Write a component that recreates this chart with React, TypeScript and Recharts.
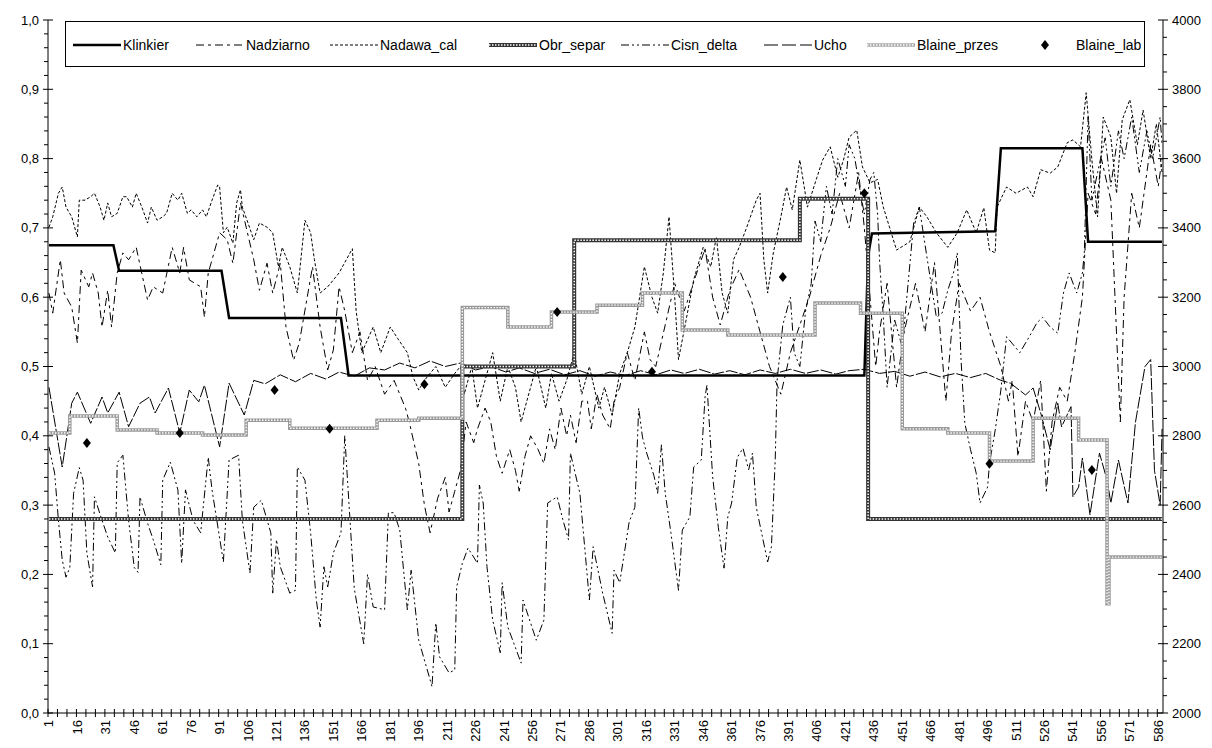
import React from "react";
import { ComposedChart, Line, Scatter, XAxis, YAxis, Legend } from "recharts";

const xLabels = [1, 16, 31, 46, 61, 76, 91, 106, 121, 136, 151, 166, 181, 196, 211, 226, 241, 256, 271, 286, 301, 316, 331, 346, 361, 376, 391, 406, 421, 436, 451, 466, 481, 496, 511, 526, 541, 556, 571, 586];
const leftLabels = ["0,0", "0,1", "0,2", "0,3", "0,4", "0,5", "0,6", "0,7", "0,8", "0,9", "1,0"];
const rightLabels = ["2000", "2200", "2400", "2600", "2800", "3000", "3200", "3400", "3600", "3800", "4000"];

// [sample, value] pairs
const klinkier = [[1, 0.675], [35, 0.675], [38, 0.638], [92, 0.638], [96, 0.57], [155, 0.57], [159, 0.487], [431, 0.487], [433, 0.66], [435, 0.692], [500, 0.695], [503, 0.815], [546, 0.815], [549, 0.68], [588, 0.68]];

const nadziarno = [[1, 0.606], [3, 0.577], [7, 0.654], [9, 0.606], [13, 0.586], [16, 0.534], [18, 0.639], [22, 0.615], [24, 0.635], [27, 0.606], [29, 0.557], [32, 0.61], [34, 0.557], [37, 0.635], [40, 0.664], [43, 0.654], [47, 0.672], [53, 0.596], [56, 0.615], [61, 0.606], [66, 0.672], [70, 0.635], [72, 0.672], [75, 0.625], [81, 0.615], [83, 0.571], [85, 0.635], [87, 0.654], [91, 0.693], [95, 0.683], [98, 0.649], [102, 0.736], [105, 0.701], [109, 0.654], [112, 0.61], [116, 0.649], [119, 0.606], [123, 0.649], [126, 0.557], [130, 0.509], [133, 0.534], [140, 0.644], [144, 0.557], [148, 0.495], [151, 0.524], [154, 0.615], [157, 0.58], [161, 0.52], [165, 0.55], [169, 0.48], [173, 0.5], [178, 0.46], [183, 0.48], [189, 0.44], [191, 0.42], [196, 0.36], [199, 0.3], [202, 0.26], [206, 0.31], [210, 0.34], [212, 0.29], [215, 0.32], [218, 0.35], [221, 0.42], [225, 0.39], [227, 0.41], [231, 0.44], [234, 0.42], [237, 0.37], [240, 0.346], [244, 0.38], [247, 0.35], [249, 0.32], [252, 0.37], [255, 0.4], [259, 0.38], [262, 0.36], [265, 0.41], [268, 0.38], [271, 0.44], [274, 0.4], [276, 0.43], [279, 0.39], [282, 0.45], [285, 0.45], [287, 0.41], [290, 0.46], [293, 0.43], [297, 0.41], [299, 0.45], [302, 0.47], [306, 0.52], [310, 0.48], [315, 0.55], [318, 0.51], [321, 0.5], [326, 0.56], [331, 0.62], [336, 0.58], [342, 0.63], [347, 0.67], [351, 0.6], [355, 0.56], [360, 0.61], [365, 0.64], [371, 0.6], [376, 0.55], [381, 0.5], [387, 0.46], [392, 0.52], [397, 0.56], [402, 0.6], [408, 0.66], [413, 0.7], [418, 0.75], [423, 0.7], [428, 0.78], [431, 0.7], [434, 0.6], [437, 0.5], [439, 0.55], [443, 0.62], [448, 0.47], [452, 0.55], [458, 0.62], [463, 0.55], [468, 0.65], [474, 0.45], [477, 0.55], [481, 0.62], [487, 0.58], [492, 0.6], [497, 0.55], [503, 0.5], [507, 0.45], [509, 0.48], [512, 0.37], [516, 0.45], [520, 0.42], [524, 0.48], [527, 0.32], [530, 0.42], [534, 0.47], [538, 0.45], [542, 0.52], [546, 0.6], [549, 0.75], [553, 0.72], [556, 0.8], [561, 0.74], [566, 0.42], [568, 0.6], [572, 0.75], [576, 0.7], [582, 0.82], [586, 0.76], [588, 0.8]];

const nadawaCal = [[1, 0.701], [3, 0.716], [6, 0.75], [8, 0.759], [10, 0.73], [13, 0.716], [16, 0.687], [17, 0.74], [20, 0.74], [23, 0.745], [25, 0.75], [28, 0.73], [30, 0.711], [32, 0.736], [34, 0.716], [37, 0.721], [40, 0.745], [42, 0.745], [45, 0.73], [47, 0.75], [50, 0.73], [53, 0.707], [55, 0.73], [58, 0.711], [61, 0.716], [63, 0.721], [66, 0.75], [69, 0.74], [71, 0.75], [74, 0.721], [76, 0.726], [79, 0.716], [82, 0.726], [84, 0.716], [87, 0.74], [90, 0.762], [91, 0.759], [93, 0.693], [95, 0.701], [98, 0.678], [100, 0.736], [102, 0.755], [103, 0.73], [106, 0.707], [109, 0.683], [112, 0.707], [116, 0.701], [119, 0.693], [122, 0.644], [124, 0.672], [128, 0.644], [132, 0.606], [136, 0.711], [139, 0.693], [141, 0.654], [144, 0.606], [148, 0.615], [151, 0.625], [154, 0.635], [161, 0.67], [163, 0.58], [166, 0.52], [172, 0.557], [176, 0.52], [181, 0.557], [185, 0.54], [190, 0.52], [193, 0.485], [196, 0.466], [199, 0.48], [205, 0.5], [210, 0.47], [215, 0.49], [218, 0.5], [220, 0.46], [224, 0.5], [227, 0.44], [231, 0.48], [235, 0.52], [239, 0.45], [243, 0.5], [247, 0.47], [250, 0.42], [255, 0.47], [258, 0.5], [263, 0.44], [266, 0.49], [270, 0.45], [274, 0.48], [278, 0.52], [282, 0.46], [286, 0.5], [291, 0.44], [294, 0.47], [298, 0.43], [302, 0.49], [306, 0.52], [310, 0.557], [315, 0.644], [319, 0.6], [322, 0.577], [325, 0.635], [328, 0.716], [331, 0.6], [333, 0.51], [337, 0.567], [341, 0.625], [346, 0.672], [350, 0.644], [353, 0.687], [356, 0.606], [359, 0.577], [362, 0.654], [365, 0.672], [369, 0.701], [374, 0.74], [376, 0.75], [378, 0.654], [380, 0.606], [383, 0.664], [387, 0.716], [390, 0.759], [393, 0.726], [397, 0.798], [401, 0.73], [406, 0.773], [409, 0.798], [413, 0.817], [417, 0.773], [420, 0.798], [423, 0.831], [427, 0.841], [430, 0.788], [434, 0.765], [438, 0.77], [441, 0.73], [448, 0.668], [455, 0.68], [460, 0.73], [464, 0.716], [469, 0.693], [475, 0.672], [480, 0.693], [485, 0.726], [490, 0.693], [494, 0.729], [497, 0.668], [500, 0.664], [501, 0.73], [506, 0.759], [511, 0.75], [517, 0.759], [520, 0.745], [524, 0.784], [529, 0.779], [533, 0.788], [538, 0.823], [541, 0.827], [545, 0.817], [548, 0.895], [551, 0.798], [554, 0.716], [557, 0.86], [561, 0.831], [564, 0.75], [567, 0.856], [571, 0.885], [575, 0.82], [578, 0.87], [582, 0.8], [585, 0.85], [588, 0.78]];

const cisnDelta = [[1, 0.384], [4, 0.346], [6, 0.278], [8, 0.221], [10, 0.196], [12, 0.21], [14, 0.317], [17, 0.354], [19, 0.336], [21, 0.231], [24, 0.182], [25, 0.312], [29, 0.278], [32, 0.254], [36, 0.231], [37, 0.361], [40, 0.372], [43, 0.278], [46, 0.21], [48, 0.203], [49, 0.312], [53, 0.274], [56, 0.25], [60, 0.214], [61, 0.336], [65, 0.362], [69, 0.322], [71, 0.216], [73, 0.322], [77, 0.278], [81, 0.26], [85, 0.369], [87, 0.322], [93, 0.218], [96, 0.365], [101, 0.372], [103, 0.278], [107, 0.202], [109, 0.297], [113, 0.307], [118, 0.26], [119, 0.173], [121, 0.25], [123, 0.211], [128, 0.173], [131, 0.177], [132, 0.355], [136, 0.336], [139, 0.26], [142, 0.163], [144, 0.124], [146, 0.211], [148, 0.182], [151, 0.231], [155, 0.26], [157, 0.4], [162, 0.18], [167, 0.1], [169, 0.2], [172, 0.153], [178, 0.149], [180, 0.289], [183, 0.289], [186, 0.264], [190, 0.149], [192, 0.206], [196, 0.105], [202, 0.048], [203, 0.038], [205, 0.13], [207, 0.081], [212, 0.058], [215, 0.062], [216, 0.182], [219, 0.216], [222, 0.238], [227, 0.216], [228, 0.329], [230, 0.303], [232, 0.211], [235, 0.134], [239, 0.087], [240, 0.188], [243, 0.124], [250, 0.072], [251, 0.163], [258, 0.105], [262, 0.134], [264, 0.303], [269, 0.312], [272, 0.279], [275, 0.25], [276, 0.375], [281, 0.317], [286, 0.163], [288, 0.24], [293, 0.173], [298, 0.115], [299, 0.206], [302, 0.188], [307, 0.276], [310, 0.297], [312, 0.44], [314, 0.398], [316, 0.377], [320, 0.343], [322, 0.317], [324, 0.387], [326, 0.317], [329, 0.26], [333, 0.177], [335, 0.264], [339, 0.283], [341, 0.355], [345, 0.365], [347, 0.456], [348, 0.473], [351, 0.341], [354, 0.268], [357, 0.209], [359, 0.283], [361, 0.303], [364, 0.369], [367, 0.382], [370, 0.351], [372, 0.375], [374, 0.297], [380, 0.218], [382, 0.24], [384, 0.365], [385, 0.48], [388, 0.56], [392, 0.6], [394, 0.52], [397, 0.5], [400, 0.58], [403, 0.62], [405, 0.71], [408, 0.68], [411, 0.76], [414, 0.72], [417, 0.8], [421, 0.76], [423, 0.82], [426, 0.8], [429, 0.75], [431, 0.72], [434, 0.77], [436, 0.78], [438, 0.72], [439, 0.654], [441, 0.571], [443, 0.47], [447, 0.567], [451, 0.528], [457, 0.707], [460, 0.73], [464, 0.658], [467, 0.606], [469, 0.571], [472, 0.577], [475, 0.61], [478, 0.635], [480, 0.664], [482, 0.509], [484, 0.418], [487, 0.38], [490, 0.346], [492, 0.303], [496, 0.326], [497, 0.36], [500, 0.408], [503, 0.466], [506, 0.543], [513, 0.52], [518, 0.543], [522, 0.563], [525, 0.571], [529, 0.557], [533, 0.548], [536, 0.606], [539, 0.635], [543, 0.606], [546, 0.635], [547, 0.664], [549, 0.86], [551, 0.74], [554, 0.78], [558, 0.83], [561, 0.76], [565, 0.84], [568, 0.8], [572, 0.86], [576, 0.78], [580, 0.84], [583, 0.8], [587, 0.86], [588, 0.82]];

const ucho = [[1, 0.47], [8, 0.355], [13, 0.447], [16, 0.463], [23, 0.418], [29, 0.456], [32, 0.433], [38, 0.463], [43, 0.413], [49, 0.447], [54, 0.456], [57, 0.433], [64, 0.469], [70, 0.404], [75, 0.466], [80, 0.449], [83, 0.473], [91, 0.384], [96, 0.476], [104, 0.43], [109, 0.48], [115, 0.475], [123, 0.488], [131, 0.478], [139, 0.49], [147, 0.482], [154, 0.492], [162, 0.486], [170, 0.498], [178, 0.495], [186, 0.505], [194, 0.498], [202, 0.508], [210, 0.5], [218, 0.505], [226, 0.495], [234, 0.5], [242, 0.492], [249, 0.498], [257, 0.49], [265, 0.496], [273, 0.488], [281, 0.494], [289, 0.486], [297, 0.492], [305, 0.487], [313, 0.494], [321, 0.488], [329, 0.495], [336, 0.49], [344, 0.496], [352, 0.489], [360, 0.494], [368, 0.488], [376, 0.495], [384, 0.49], [392, 0.496], [400, 0.49], [408, 0.495], [416, 0.489], [423, 0.494], [431, 0.496], [439, 0.49], [447, 0.493], [455, 0.486], [463, 0.492], [471, 0.485], [479, 0.49], [487, 0.484], [495, 0.49], [503, 0.48], [508, 0.476], [516, 0.459], [520, 0.469], [524, 0.433], [529, 0.38], [533, 0.447], [535, 0.413], [540, 0.442], [541, 0.312], [544, 0.326], [546, 0.368], [550, 0.286], [555, 0.375], [559, 0.336], [561, 0.303], [565, 0.365], [570, 0.303], [574, 0.42], [579, 0.5], [582, 0.51], [584, 0.35], [587, 0.3], [588, 0.41]];

const obrSepar = [[1, 0.28], [219, 0.5], [278, 0.682], [397, 0.742], [433, 0.28], [588, 0.28]];

const blainePrzes = [[1, 2808], [12, 2857], [37, 2817], [58, 2808], [82, 2802], [105, 2845], [128, 2822], [174, 2845], [196, 2851], [219, 3170], [243, 3114], [266, 3157], [290, 3177], [314, 3212], [335, 3105], [359, 3091], [405, 3183], [429, 3154], [451, 2820], [475, 2808], [497, 2727], [520, 2851], [544, 2788], [559, 2315], [560, 2450], [588, 2450]];

const blaineLab = [[21, 2779], [70, 2808], [120, 2932], [149, 2820], [199, 2949], [269, 3157], [319, 2985], [388, 3258], [431, 3500], [497, 2719], [551, 2701]];

const rows = (pts: number[][]) => pts.map(([x, v]) => ({ x, v }));

const FONT = "'Liberation Sans', Arial, sans-serif";

const xTicks = [...xLabels, ...Array.from({ length: 118 }, (_, i) => 0.5 + 5 * i)].sort((a, b) => a - b);
const leftTicks = Array.from({ length: 51 }, (_, i) => i / 50);
const rightTicks = Array.from({ length: 41 }, (_, i) => 2000 + 50 * i);

const XTick = ({ x, y, payload }: any) => {
  const v = payload.value;
  if (!Number.isInteger(v)) {
    return <line x1={x} x2={x} y1={y - 4} y2={y + 4} stroke="#000" />;
  }
  return (
    <text transform={`translate(${x},${y + 7}) rotate(-90)`} textAnchor="end" dominantBaseline="central" fontSize={13} fontFamily={FONT} fill="#000">
      {v}
    </text>
  );
};

const LeftTick = ({ x, y, index }: any) => {
  const major = index % 5 === 0;
  return (
    <g>
      <line x1={major ? x - 5 : x - 4} x2={major ? x + 5 : x} y1={y} y2={y} stroke="#000" />
      {major && (
        <text x={x - 9} y={y} textAnchor="end" dominantBaseline="central" fontSize={13} fontFamily={FONT} fill="#000">
          {leftLabels[index / 5]}
        </text>
      )}
    </g>
  );
};

const RightTick = ({ x, y, index }: any) => {
  const major = index % 4 === 0;
  return (
    <g>
      <line x1={major ? x - 5 : x} x2={major ? x + 5 : x + 4} y1={y} y2={y} stroke="#000" />
      {major && (
        <text x={x + 9} y={y} textAnchor="start" dominantBaseline="central" fontSize={13} fontFamily={FONT} fill="#000">
          {rightLabels[index / 4]}
        </text>
      )}
    </g>
  );
};

const Diamond = ({ cx, cy }: any) => (
  <polygon points={`${cx},${cy - 5} ${cx + 4},${cy} ${cx},${cy + 5} ${cx - 4},${cy}`} fill="#000" />
);

const legendItems = [
  { name: "Klinkier", left: 122, kind: "solid" },
  { name: "Nadziarno", left: 245, kind: "dashdot" },
  { name: "Nadawa_cal", left: 379, kind: "dash" },
  { name: "Obr_separ", left: 538, kind: "obr" },
  { name: "Cisn_delta", left: 670, kind: "dashdotdot" },
  { name: "Ucho", left: 813, kind: "long" },
  { name: "Blaine_przes", left: 916, kind: "blaine" },
  { name: "Blaine_lab", left: 1075, kind: "marker" },
];

const Sample = ({ kind }: { kind: string }) => {
  const w = 48;
  let body: React.ReactNode = null;
  if (kind === "solid") body = <line x1={0} x2={w} y1={6} y2={6} stroke="#000" strokeWidth={2.5} />;
  if (kind === "dashdot") body = <line x1={0} x2={w} y1={6} y2={6} stroke="#000" strokeDasharray="8 4 3 4" />;
  if (kind === "dash") body = <line x1={0} x2={w} y1={6} y2={6} stroke="#000" strokeDasharray="3 2" />;
  if (kind === "dashdotdot") body = <line x1={0} x2={w} y1={6} y2={6} stroke="#000" strokeDasharray="8 3 2 3 2 3" />;
  if (kind === "long") body = <line x1={0} x2={w} y1={6} y2={6} stroke="#000" strokeDasharray="14 4" />;
  if (kind === "obr")
    body = (
      <g>
        <line x1={0} x2={w} y1={6} y2={6} stroke="#333" strokeWidth={4} />
        <line x1={0} x2={w} y1={6} y2={6} stroke="#fff" strokeWidth={1.5} strokeDasharray="1.5 1.5" />
      </g>
    );
  if (kind === "blaine")
    body = (
      <g>
        <line x1={0} x2={w} y1={6} y2={6} stroke="#aaa" strokeWidth={3.5} />
        <line x1={0} x2={w} y1={6} y2={6} stroke="#fff" strokeWidth={1.4} strokeDasharray="1.5 1.5" />
      </g>
    );
  if (kind === "marker") body = <polygon points="19,1 23,6 19,11 15,6" fill="#000" />;
  return (
    <svg width={w} height={12} style={{ position: "absolute", left: -50, top: 3, overflow: "visible" }}>
      {body}
    </svg>
  );
};

const LegendBox = () => (
  <div style={{ position: "relative", width: 1080, height: 46, border: "1px solid #000", boxSizing: "border-box", background: "#fff", fontFamily: FONT, fontSize: 14, color: "#000" }}>
    {legendItems.map((it) => (
      <div key={it.name} style={{ position: "absolute", left: it.left - 65, top: 14, height: 18, lineHeight: "18px", whiteSpace: "nowrap" }}>
        <Sample kind={it.kind} />
        {it.name}
      </div>
    ))}
  </div>
);

const common = { dot: false, isAnimationActive: false, xAxisId: "x", legendType: "none" as const };

export default function App() {
  return (
    <div style={{ position: "absolute", left: 0, top: 0, width: 1212, height: 748, background: "#fff" }}>
      <ComposedChart width={1212} height={748} margin={{ top: 20, right: 0, bottom: 0, left: 0 }}>
        <XAxis xAxisId="x" type="number" dataKey="x" domain={[0.5, 588.5]} allowDataOverflow ticks={xTicks} interval={0} height={35} tickSize={0} tickMargin={0} tick={<XTick />} axisLine={{ stroke: "#000" }} tickLine={false} />
        <YAxis yAxisId="left" orientation="left" domain={[0, 1]} allowDataOverflow ticks={leftTicks} interval={0} width={48} tickSize={0} tickMargin={0} tick={<LeftTick />} axisLine={{ stroke: "#000" }} tickLine={false} />
        <YAxis yAxisId="right" orientation="right" domain={[2000, 4000]} allowDataOverflow ticks={rightTicks} interval={0} width={49} tickSize={0} tickMargin={0} tick={<RightTick />} axisLine={{ stroke: "#000" }} tickLine={false} />
        <Legend verticalAlign="middle" layout="horizontal" content={() => <LegendBox />} wrapperStyle={{ left: 65, top: 21, width: 1080, height: 46 }} />

        <Line {...common} yAxisId="left" data={rows(nadziarno)} dataKey="v" type="linear" stroke="#000" strokeWidth={1} strokeDasharray="8 4 3 4" />
        <Line {...common} yAxisId="left" data={rows(nadawaCal)} dataKey="v" type="linear" stroke="#000" strokeWidth={1} strokeDasharray="3 2" />
        <Line {...common} yAxisId="left" data={rows(cisnDelta)} dataKey="v" type="linear" stroke="#000" strokeWidth={1} strokeDasharray="8 3 2 3 2 3" />
        <Line {...common} yAxisId="left" data={rows(ucho)} dataKey="v" type="linear" stroke="#000" strokeWidth={1} strokeDasharray="12 2" />
        <Line {...common} yAxisId="left" data={rows(klinkier)} dataKey="v" type="linear" stroke="#000" strokeWidth={2.5} />
        <Line {...common} yAxisId="left" data={rows(obrSepar)} dataKey="v" type="stepAfter" stroke="#333" strokeWidth={4} />
        <Line {...common} yAxisId="left" data={rows(obrSepar)} dataKey="v" type="stepAfter" stroke="#fff" strokeWidth={1.5} strokeDasharray="1.5 1.5" />
        <Line {...common} yAxisId="right" data={rows(blainePrzes)} dataKey="v" type="stepAfter" stroke="#999" strokeWidth={3.5} />
        <Line {...common} yAxisId="right" data={rows(blainePrzes)} dataKey="v" type="stepAfter" stroke="#fff" strokeWidth={1.4} strokeDasharray="1.5 1.5" />
        <Scatter xAxisId="x" yAxisId="right" data={rows(blaineLab)} dataKey="v" shape={<Diamond />} isAnimationActive={false} legendType="none" />
      </ComposedChart>
    </div>
  );
}
